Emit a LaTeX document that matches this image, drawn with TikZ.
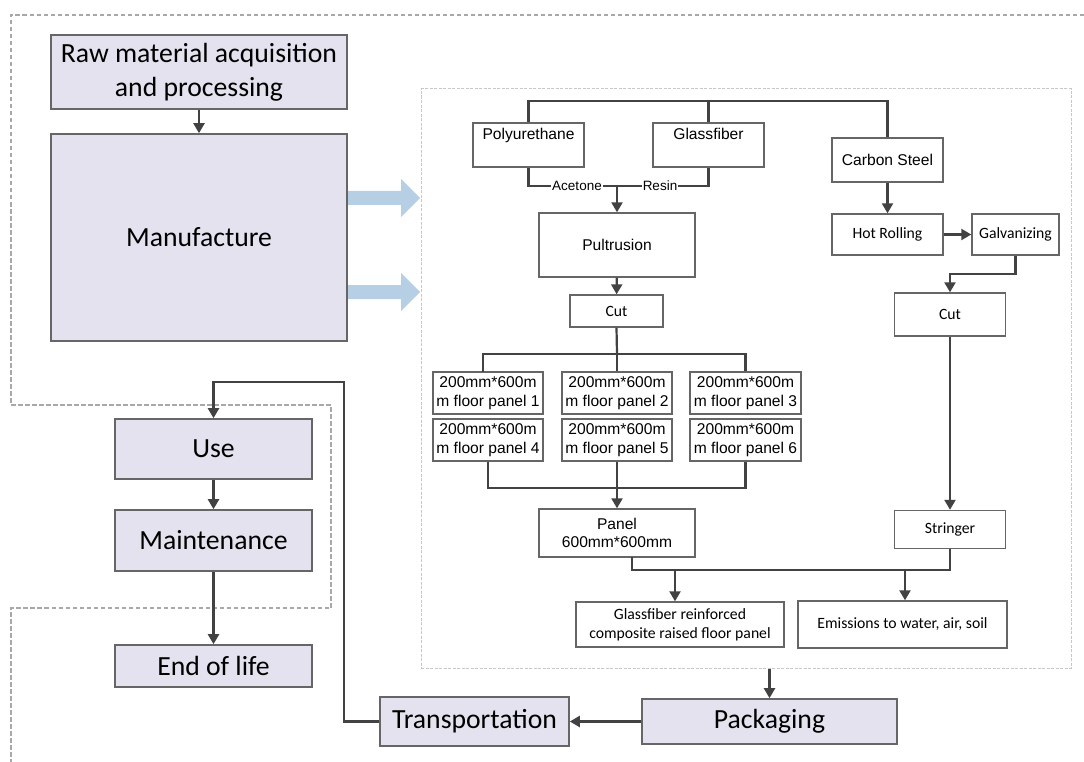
\documentclass[tikz,border=0pt]{standalone}
\usepackage{fontspec}
\setmainfont{Carlito}
\newfontfamily\arialf{Liberation Sans}
\usetikzlibrary{arrows.meta}
\definecolor{lav}{HTML}{E4E2EE}
\definecolor{bord}{HTML}{666666}
\definecolor{lineC}{HTML}{424242}
\definecolor{dashA}{HTML}{A8A8A8}
\definecolor{dashB}{HTML}{C8C8C8}
\definecolor{blu}{HTML}{B6CFE4}
\tikzset{
 stage/.style={draw=bord, fill=lav, line width=1.6pt, inner sep=0pt, align=center, font=\fontsize{27.7}{34}\selectfont},
 wbox/.style={draw=bord, fill=white, line width=1.4pt, inner sep=0pt, align=center, font=\arialf\fontsize{15.6}{18.5}\selectfont},
 cbox/.style={wbox, font=\fontsize{15.7}{19}\selectfont},
 link/.style={draw=lineC, line width=2.2pt},
 arr/.style={link, -{Triangle[length=10pt,width=11pt]}},
 lbl/.style={fill=white, inner sep=1pt, font=\arialf\fontsize{13.5}{15}\selectfont},
 toplbl/.style={font=\arialf\fontsize{15.6}{18}\selectfont, inner sep=0pt, anchor=base, yshift=-17.5pt},
 bigarrow/.style={fill=blu, draw=none},
}
\begin{document}
\begin{tikzpicture}[x=1pt,y=-1pt]
\useasboundingbox (0,0) rectangle (1084,762);
% outer dashed frame
\draw[dashA, line width=2.4pt, dash pattern=on 4.5pt off 2.5pt] (1084,15) -- (11,15) -- (11,405) -- (331,405) -- (331,608) -- (11,608) -- (11,762);
% inner dashed frame
\node[draw=dashB, line width=1pt, dash pattern=on 3pt off 1.5pt, minimum width=650pt, minimum height=579pt, inner sep=0pt] (mfg) at (746,378.5) {};

% left stages
\node[stage, minimum width=296pt, minimum height=74pt] (raw) at (199,72) {Raw material acquisition\\and processing};
\node[stage, minimum width=296pt, minimum height=207pt] (manu) at (199,237.5) {Manufacture};
\node[stage, minimum width=197pt, minimum height=60pt] (use) at (213.5,449) {Use};
\node[stage, minimum width=197pt, minimum height=61pt] (maint) at (213.5,540.5) {Maintenance};
\node[stage, minimum width=197pt, minimum height=42pt] (eol) at (213.5,666) {End of life};
\node[stage, minimum width=189pt, minimum height=49pt] (trans) at (474.5,721.5) {Transportation};
\node[stage, minimum width=255pt, minimum height=45pt] (pack) at (769.5,721.5) {Packaging};

% blue arrows
\fill[bigarrow] (348,191) -- (401,191) -- (401,179) -- (420,198) -- (401,217) -- (401,205) -- (348,205) -- cycle;
\fill[bigarrow] (348,285) -- (401,285) -- (401,273) -- (420,292) -- (401,311) -- (401,299) -- (348,299) -- cycle;

% inner process boxes
\node[wbox, minimum width=111pt, minimum height=44pt, label={[toplbl]north:Polyurethane}] (poly) at (528.5,145) {};
\node[wbox, minimum width=111pt, minimum height=44pt, label={[toplbl]north:Glassfiber}] (glass) at (708.5,145) {};
\node[wbox, minimum width=111pt, minimum height=44pt] (carbon) at (887.5,160) {Carbon Steel};
\node[wbox, minimum width=156pt, minimum height=64pt] (pult) at (617,245) {Pultrusion};
\node[cbox, minimum width=93pt, minimum height=32pt] (cutA) at (616.5,311) {Cut};
\node[cbox, minimum width=111pt, minimum height=41pt] (hot) at (887.5,234.5) {Hot Rolling};
\node[cbox, minimum width=87pt, minimum height=41pt] (galv) at (1015.5,234.5) {Galvanizing};
\node[cbox, minimum width=111pt, minimum height=43pt] (cutB) at (950,314.5) {Cut};
\node[cbox, minimum width=111pt, minimum height=38pt] (stringer) at (950,529.5) {Stringer};

\node[wbox, minimum width=110pt, minimum height=42pt] (p1) at (488,393) {200mm*600m\\m floor panel 1};
\node[wbox, minimum width=110pt, minimum height=42pt] (p2) at (617,393) {200mm*600m\\m floor panel 2};
\node[wbox, minimum width=111pt, minimum height=42pt] (p3) at (745.5,393) {200mm*600m\\m floor panel 3};
\node[wbox, minimum width=110pt, minimum height=42pt] (p4) at (488,440) {200mm*600m\\m floor panel 4};
\node[wbox, minimum width=110pt, minimum height=42pt] (p5) at (617,440) {200mm*600m\\m floor panel 5};
\node[wbox, minimum width=111pt, minimum height=42pt] (p6) at (745.5,440) {200mm*600m\\m floor panel 6};
\node[wbox, minimum width=156pt, minimum height=48pt] (panel) at (617,533) {Panel\\600mm*600mm};
\node[cbox, minimum width=208pt, minimum height=45pt] (gfr) at (680,624.5) {Glassfiber reinforced\\composite raised floor panel};
\node[cbox, minimum width=209pt, minimum height=47pt] (emis) at (902.5,624.5) {Emissions to water, air, soil};

% connectors, left column
\draw[arr] (raw) -- (manu);
\draw[arr] (use) -- (maint);
\draw[arr] (maint) -- (eol);
\draw[arr] (pack) -- (trans);
\draw[arr] (trans.west) -- (344,721.5) -- (344,382) -- (213.5,382) -- (use.north);
\draw[arr] (mfg.south -| pack.north) -- (pack.north);

% material inputs
\draw[link] (poly.north) -- (528.5,101) -- (887.5,101) -- (carbon.north);
\draw[link] (glass.north) -- (708.5,101);
\coordinate (mix) at (617,186);
\draw[link] (poly.south) -- (528.5,186) -- (708.5,186) -- (glass.south);
\node[lbl] (lace) at (577,186) {Acetone};
\node[lbl] (lres) at (660,186) {Resin};
\draw[arr] (mix) -- (pult.north);
\draw[arr] (pult) -- (cutA);

% panels
\draw[link] (cutA.south) -- (617,354);
\draw[link] (483,372) -- (483,354) -- (745.5,354) -- (p3.north);
\draw[link] (617,354) -- (p2.north);
\draw[link] (p4.south) -- (488,488) -- (745.5,488) -- (p6.south);
\draw[arr] (p5.south) -- (panel.north);

% steel line
\draw[arr] (carbon) -- (hot);
\draw[arr] (hot) -- (galv);
\draw[arr] (galv.south) -- (1015.5,274) -- (950,274) -- (cutB.north);
\draw[arr] (cutB) -- (stringer);

% outputs
\coordinate (jA) at (675,570);
\coordinate (jB) at (905,570);
\draw[link] (632,557) -- (632,570) -- (950,570) -- (stringer.south);
\draw[arr] (jA) -- (jA |- gfr.north);
\draw[arr] (jB) -- (jB |- emis.north);
\end{tikzpicture}
\end{document}
